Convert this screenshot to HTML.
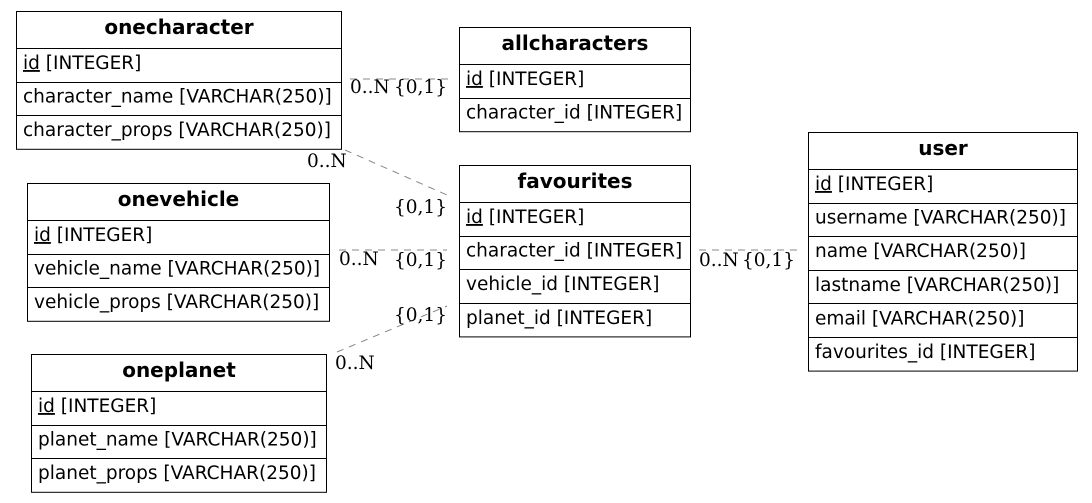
<!DOCTYPE html>
<html><head><meta charset="utf-8"><style>
html,body{margin:0;padding:0;background:#fff;width:1092px;height:503px;overflow:hidden}
svg{display:block}
.h{font:bold 20px "DejaVu Sans",sans-serif;text-anchor:middle}
.r{font:18.5px "DejaVu Sans",sans-serif}
.l{font:18.5px "DejaVu Serif","Liberation Serif",serif}
.e{stroke:#888;stroke-dasharray:7,6;fill:none;stroke-width:1}
</style></head><body>
<svg width="1092" height="503">
<g>
<line class="e" x1="350" y1="79" x2="449" y2="79"/>
<line class="e" x1="345" y1="150" x2="447" y2="195"/>
<line class="e" x1="339" y1="250" x2="447" y2="250"/>
<line class="e" x1="337" y1="352" x2="447" y2="306"/>
<line class="e" x1="699" y1="250" x2="798" y2="250"/>
</g>
<g>
<text class="l" x="350" y="93">0..N</text><text class="l" x="394" y="93">{0,1}</text>
<text class="l" x="307" y="167">0..N</text><text class="l" x="394" y="213">{0,1}</text>
<text class="l" x="339" y="265">0..N</text><text class="l" x="394" y="266">{0,1}</text>
<text class="l" x="394" y="321">{0,1}</text><text class="l" x="335" y="369">0..N</text>
<text class="l" x="699" y="266">0..N</text><text class="l" x="742" y="266">{0,1}</text>
</g>
<g id="tables"></g>
</svg>
<script>
const tables=[
 {n:'onecharacter',x:16,y:11,w:325,rows:['id|[INTEGER]','character_name [VARCHAR(250)]','character_props [VARCHAR(250)]']},
 {n:'allcharacters',x:459,y:27,w:231,rows:['id|[INTEGER]','character_id [INTEGER]']},
 {n:'favourites',x:459,y:165,w:231,rows:['id|[INTEGER]','character_id [INTEGER]','vehicle_id [INTEGER]','planet_id [INTEGER]']},
 {n:'user',x:808,y:132,w:269,rows:['id|[INTEGER]','username [VARCHAR(250)]','name [VARCHAR(250)]','lastname [VARCHAR(250)]','email [VARCHAR(250)]','favourites_id [INTEGER]']},
 {n:'onevehicle',x:27,y:183,w:302,rows:['id|[INTEGER]','vehicle_name [VARCHAR(250)]','vehicle_props [VARCHAR(250)]']},
 {n:'oneplanet',x:31,y:354,w:295,rows:['id|[INTEGER]','planet_name [VARCHAR(250)]','planet_props [VARCHAR(250)]']}
];
const NS='http://www.w3.org/2000/svg';
const g=document.getElementById('tables');
function mk(t,a,p){const e=document.createElementNS(NS,t);for(const k in a)e.setAttribute(k,a[k]);p.appendChild(e);return e;}
tables.forEach(t=>{
 const H=37,R=33.6,h=H+R*t.rows.length;
 const tg=mk('g',{},g);
 
 
 mk('rect',{x:t.x+0.5,y:t.y+0.5,width:t.w,height:h,fill:'#fff',stroke:'#000','stroke-width':1},tg);
 const ht=mk('text',{class:'h',x:t.x+t.w/2+0.5,y:t.y+23},tg);ht.textContent=t.n;
 
 
 t.rows.forEach((r,i)=>{
  const y=t.y+H+R*i;
  mk('line',{x1:t.x,x2:t.x+t.w,y1:Math.round(y)+0.5,y2:Math.round(y)+0.5,stroke:'#000'},tg);
  const tx=mk('text',{class:'r',x:t.x+7,y:y+21},tg);
  
  
  if(r.includes('|')){const [a,b]=r.split('|');const s=mk('tspan',{'text-decoration':'underline'},tx);s.textContent=a;const s2=mk('tspan',{},tx);s2.textContent=' '+b;}
  else tx.textContent=r;
 });
});
</script>
</body></html>
